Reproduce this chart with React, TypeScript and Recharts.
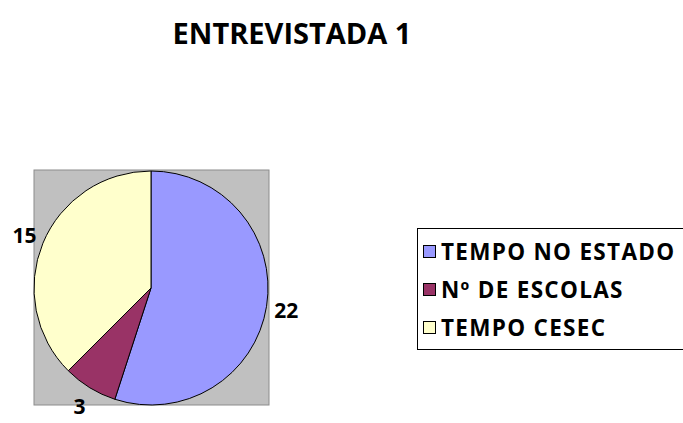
import { Cell, Customized, Legend, Pie, PieChart } from "recharts";

const categories = ["TEMPO NO ESTADO", "Nº DE ESCOLAS", "TEMPO CESEC"];
const values = [22, 3, 15];
const colors = ["#9999ff", "#993366", "#ffffcc"];
const title = "ENTREVISTADA 1";

const data = categories.map((name, i) => ({ name, value: values[i] }));

const W = 683;
const H = 423;
const CX = 151;
const CY = 288;
const R = 117;
const FONT = "'Open Sans', 'DejaVu Sans', sans-serif";
const RAD = Math.PI / 180;

function renderLabel(props: any) {
  const { cx, cy, midAngle, outerRadius, value } = props;
  const x = cx + (outerRadius + 20) * Math.cos(-midAngle * RAD);
  const y = cy + (outerRadius + 21) * Math.sin(-midAngle * RAD);
  return (
    <text
      x={x}
      y={y}
      textAnchor="middle"
      dominantBaseline="central"
      fontFamily={FONT}
      fontWeight={700}
      fontSize={21}
      fill="#000"
    >
      {value}
    </text>
  );
}

function Backdrop() {
  return (
    <g>
      <rect x={CX - R} y={CY - R - 1} width={R * 2 + 1} height={R * 2 + 1} fill="#c0c0c0" stroke="#8c8c8c" />
      <text
        x={292}
        y={32}
        textAnchor="middle"
        dominantBaseline="central"
        fontFamily={FONT}
        fontWeight={700}
        fontSize={29}
        fill="#000"
      >
        {title}
      </text>
    </g>
  );
}

function LegendBox() {
  return (
    <div
      style={{
        border: "1px solid #000",
        background: "#fff",
        padding: "3px 0 3px 5px",
        width: 290,
        boxSizing: "border-box",
      }}
    >
      {data.map((d, i) => (
        <div
          key={d.name}
          style={{
            display: "flex",
            alignItems: "center",
            height: 38,
            fontFamily: FONT,
            fontWeight: 700,
            fontSize: 22.5,
            letterSpacing: 1.3,
            whiteSpace: "nowrap",
          }}
        >
          <span
            style={{
              width: 11,
              height: 11,
              background: colors[i],
              border: "1px solid #000",
              marginRight: 5,
              display: "inline-block",
              flexShrink: 0,
            }}
          />
          {d.name}
        </div>
      ))}
    </div>
  );
}

export default function App() {
  return (
    <div style={{ position: "absolute", left: 0, top: 0, width: W, height: H, background: "#fff", overflow: "hidden" }}>
      <PieChart width={W} height={H} margin={{ top: 0, right: 0, bottom: 0, left: 0 }}>
        <Customized component={Backdrop} />
        <Pie
          data={data}
          dataKey="value"
          nameKey="name"
          cx={CX}
          cy={CY}
          outerRadius={R}
          startAngle={90}
          endAngle={-270}
          stroke="#000"
          strokeWidth={1}
          label={renderLabel}
          labelLine={false}
          isAnimationActive={false}
        >
          {data.map((d, i) => (
            <Cell key={d.name} fill={colors[i]} />
          ))}
        </Pie>
        <Legend
          content={() => <LegendBox />}
          wrapperStyle={{ position: "absolute", left: 417, top: 228, width: 290 }}
        />
      </PieChart>
    </div>
  );
}
